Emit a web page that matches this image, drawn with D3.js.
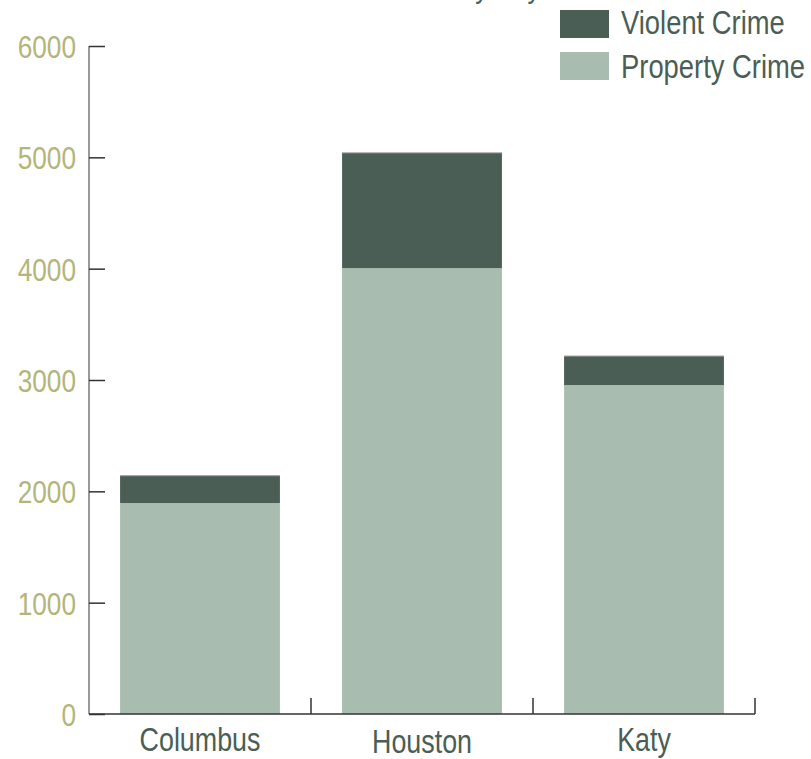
<!DOCTYPE html>
<html><head><meta charset="utf-8">
<script src="https://cdn.jsdelivr.net/npm/d3@7"></script>
<style>body{margin:0;background:#fff}svg{display:block}text{font-family:"Liberation Sans",Arial,sans-serif}</style>
</head><body>
<script>
const categories = ["Columbus", "Houston", "Katy"];
const propertyCrime = [1895, 4005, 2955];
const violentCrime = [245, 1035, 260];
const yTicks = [0, 1000, 2000, 3000, 4000, 5000, 6000];
const seriesNames = ["Violent Crime", "Property Crime"];
const title = "Crime by City";

const W = 811, H = 759;
const svg = d3.select("body").append("svg").attr("width", W).attr("height", H);
const dark = "#4a5e55", light = "#a9bcb0", tickCol = "#b3b57a";
const SX = 0.82;
const narrow = (sel, tx, ty, sx) => sel.attr("transform", (d, i) => `translate(${tx(d, i)},${ty(d, i)}) scale(${sx},1)`);

const x = d3.scaleBand().domain(categories).range([89, 755]).paddingInner(0.28).paddingOuter(0.14);
const y = d3.scaleLinear().domain([0, 6000]).range([714, 46]);

svg.append("text").attr("text-anchor", "middle").attr("font-size", 32).attr("fill", dark)
  .attr("transform", `translate(462,-3) scale(${SX},1)`).text(title);

// bars
const g = svg.append("g");
categories.forEach((c, i) => {
  g.append("rect").attr("x", x(c)).attr("width", x.bandwidth())
    .attr("y", y(propertyCrime[i])).attr("height", y(0) - y(propertyCrime[i])).attr("fill", light);
  const top = propertyCrime[i] + violentCrime[i];
  g.append("rect").attr("x", x(c)).attr("width", x.bandwidth())
    .attr("y", y(top)).attr("height", y(propertyCrime[i]) - y(top)).attr("fill", dark);
  g.append("line").attr("x1", x(c)).attr("x2", x(c) + x.bandwidth())
    .attr("y1", y(top)).attr("y2", y(top)).attr("stroke", "#9a9a9a").attr("stroke-width", 1);
});

// y axis
const yAxis = svg.append("g").attr("transform", "translate(89,0)")
  .call(d3.axisRight(y).tickValues(yTicks).tickSize(16).tickFormat(""));
yAxis.select(".domain").attr("stroke", "#777").attr("stroke-width", 1.5).attr("d", `M0,${y(6000)}V${y(0)}`);
yAxis.selectAll(".tick line").attr("stroke", "#333").attr("stroke-width", 1.5);
narrow(svg.append("g").selectAll("text").data(yTicks).join("text")
  .attr("text-anchor", "end").attr("font-size", 32).attr("fill", tickCol).text(d => d),
  () => 76, d => y(d) + 12, SX);

// x axis
const xAxis = svg.append("g").attr("transform", `translate(0,${y(0)})`)
  .call(d3.axisTop(x).tickSize(0).tickFormat(""));
xAxis.select(".domain").attr("stroke", "#333").attr("stroke-width", 1.5).attr("d", `M89,0H755`);
const bounds = categories.map((c) => x(c) + x.bandwidth() + x.step() * x.paddingInner() / 2);
xAxis.selectAll(".bnd").data(bounds).join("line").attr("class", "bnd")
  .attr("x1", d => d).attr("x2", d => d).attr("y1", 0).attr("y2", -16)
  .attr("stroke", "#333").attr("stroke-width", 1.5);
narrow(svg.append("g").selectAll("text").data(categories).join("text")
  .attr("text-anchor", "middle").attr("font-size", 34).attr("fill", dark).text(d => d),
  d => x(d) + x.bandwidth() / 2, (d, i) => 751 + (i === 1 ? 2 : 0), 0.79);

// legend
const lg = svg.append("g");
seriesNames.forEach((n, i) => {
  lg.append("rect").attr("x", 560).attr("y", 10 + i * 42).attr("width", 49).attr("height", 28)
    .attr("fill", i === 0 ? dark : light);
  lg.append("text").attr("font-size", 33).attr("fill", dark)
    .attr("transform", `translate(621,${34 + i * 44}) scale(0.83,1)`).text(n);
});
</script>
</body></html>
